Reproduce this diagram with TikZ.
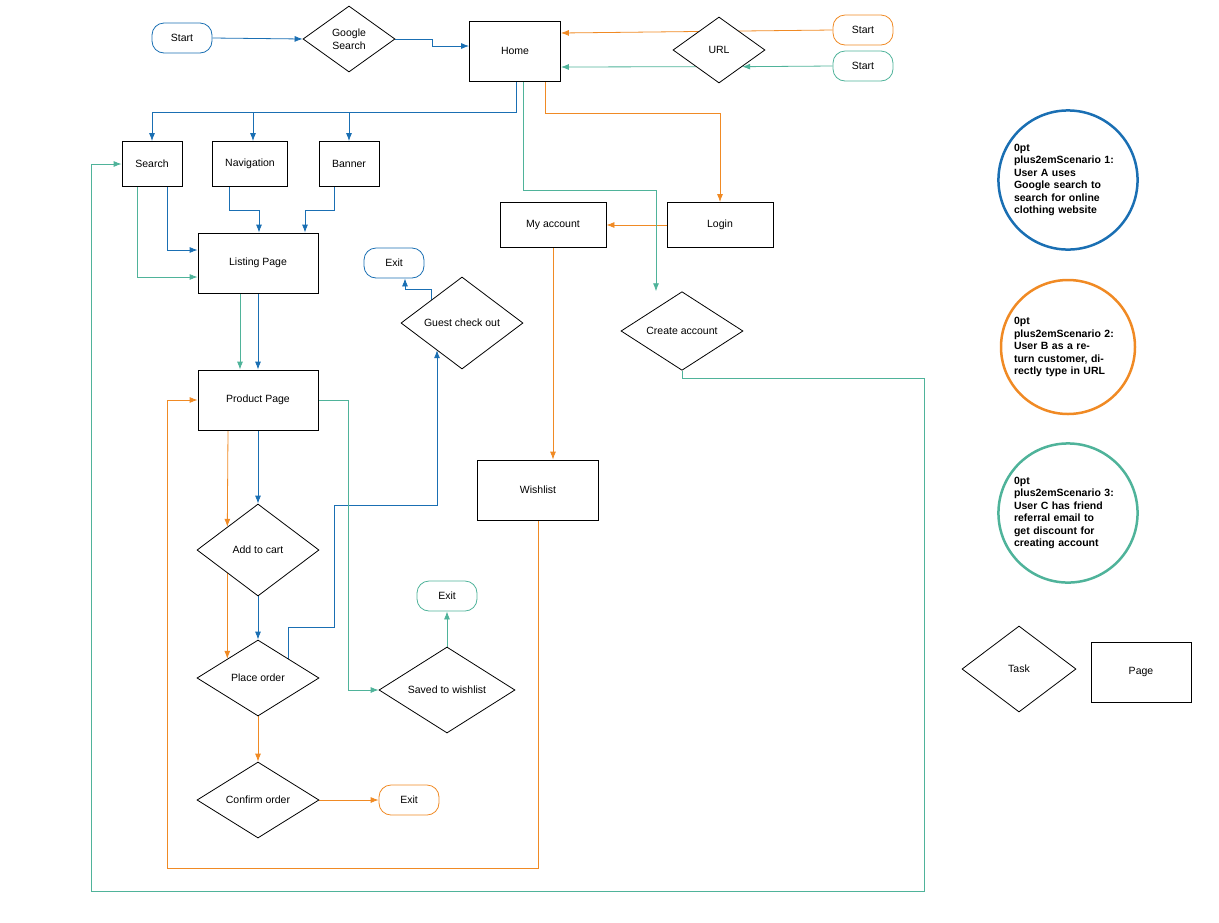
\documentclass[tikz,border=0pt]{standalone}
\usepackage{fontspec}
\setmainfont{Liberation Sans}
\usetikzlibrary{shapes.geometric,arrows.meta,backgrounds}
\definecolor{flowblue}{HTML}{1A6FB3}
\definecolor{floworange}{HTML}{F08A24}
\definecolor{flowteal}{HTML}{4FB39A}
\tikzset{
  txt/.style={font=\fontsize{10.5}{12.5}\selectfont},
  page/.style={draw, thick, fill=white, minimum width=#1, minimum height=60, txt},
  page/.default=120,
  task/.style n args={2}{draw, thick, fill=white, diamond, inner sep=0pt, minimum width=#1, minimum height=#2, txt},
  term/.style={draw=#1, thick, fill=white, rounded corners=12pt, minimum width=60, minimum height=30, txt},
  scen/.style={draw=#1, line width=2.5pt, circle, minimum size=134, text width=108, align=center,
    font=\fontsize{10.5}{12.5}\selectfont\bfseries\hyphenpenalty=10000},
  flow/.style={draw=#1, thick, -{Latex[length=8pt,width=6pt]}},
}
\begin{document}
\begin{tikzpicture}[x=1pt, y=-1pt]
  \useasboundingbox (0,0) rectangle (1219,922);

  % start points and entry
  \node[term=flowblue] (StartA) at (182,38) {Start};
  \node[task={92}{66}] (Google) at (349,39) {\shortstack{Google\\Search}};
  \node[page=91] (Home) at (515,51) {Home};
  \node[task={92}{66}] (URL) at (719,50) {URL};
  \node[term=floworange] (StartB) at (863,30) {Start};
  \node[term=flowteal] (StartC) at (863,66) {Start};

  % pages
  \node[page=60, minimum height=45] (Search) at (152,164) {Search};
  \node[page=75, minimum height=45] (Nav) at (250,164) {Navigation};
  \node[page=60, minimum height=45] (Banner) at (349,164) {Banner};
  \node[page] (Listing) at (258,263) {Listing Page};
  \node[page] (Product) at (258,400) {Product Page};
  \node[page=106, minimum height=45] (MyAcc) at (553,225) {My account};
  \node[page=106, minimum height=45] (Login) at (720,225) {Login};
  \node[page=121] (Wish) at (538,490) {Wishlist};

  % tasks
  \node[task={122}{92}] (AddCart) at (258,550) {Add to cart};
  \node[task={122}{76}] (Place) at (258,678) {Place order};
  \node[task={122}{76}] (Confirm) at (258,800) {Confirm order};
  \node[task={136}{86}] (Saved) at (447,690) {Saved to wishlist};
  \node[task={122}{92}] (Guest) at (462,323) {Guest check out};
  \node[task={122}{76}] (Create) at (682,331) {Create account};

  % exits
  \node[term=floworange] (ExitB) at (409,800) {Exit};
  \node[term=flowteal] (ExitC) at (447,596) {Exit};
  \node[term=flowblue] (ExitA) at (394,263) {Exit};

  % scenarios and legend
  \node[scen=flowblue] (ScenA) at (1068,180) {Scenario 1:\\User A uses Google search to search for online clothing website};
  \node[scen=floworange] (ScenB) at (1068,347) {Scenario 2:\\User B as a return customer, directly type in URL};
  \node[scen=flowteal] (ScenC) at (1068,513) {Scenario 3:\\User C has friend referral email to get discount for creating account};
  \node[task={114}{86}] (KeyTask) at (1019,669) {Task};
  \node[page=100] (KeyPage) at (1141,672) {Page};

  \coordinate (gturn) at (437,505);

  \begin{scope}[on background layer]
    % scenario 1
    \draw[flow=flowblue] (StartA.east) -- (Google.west);
    \draw[flow=flowblue] (Google.east) -- ++(37,0) |- ([yshift=5]Home.west);
    \draw[flow=flowblue] ([xshift=1]Home.south) -- ++(0,31) -| (Search.north);
    \draw[flow=flowblue] ([xshift=1]Home.south) -- ++(0,31) -| ([xshift=3]Nav.north);
    \draw[flow=flowblue] ([xshift=1]Home.south) -- ++(0,31) -| (Banner.north);
    \draw[flow=flowblue] ([xshift=15]Search.south) |- ([yshift=13]Listing.west);
    \draw[flow=flowblue] ([xshift=-21]Nav.south) -- ++(0,23) -| ([xshift=1]Listing.north);
    \draw[flow=flowblue] ([xshift=-15]Banner.south) -- ++(0,23) -| ([xshift=47]Listing.north);
    \draw[flow=flowblue] (Listing.south) -- (Product.north);
    \draw[flow=flowblue] (Product.south) -- (AddCart.north);
    \draw[flow=flowblue] (AddCart.south) -- (Place.north);
    \draw[flow=flowblue] (Place.north east) |- (334,627) |- (gturn) -- ([yshift=-4]gturn |- Guest.south west);
    \draw[flow=flowblue] (Guest.north west) -- ++(0,-10) -| ([xshift=11]ExitA.south);

    % scenario 2
    \draw[flow=floworange] (StartB.west) -- ([yshift=18]Home.east);
    \draw[flow=floworange] ([xshift=30]Home.south) -- ++(0,32) -| (Login.north);
    \draw[flow=floworange] (Login.west) -- (MyAcc.east);
    \draw[flow=floworange] (MyAcc.south) -- (MyAcc.south |- Wish.north);
    \draw[flow=floworange] (Wish.south) |- (167,868) |- (Product.west);
    \draw[flow=floworange] ([xshift=-30]Product.south) -- (AddCart.north west);
    \draw[flow=floworange] (AddCart.south west) -- (Place.north west);
    \draw[flow=floworange] (Place.south) -- (Confirm.north);
    \draw[flow=floworange] (Confirm.east) -- (ExitB.west);

    % scenario 3
    \draw[flow=flowteal] (StartC.west) -- (URL.south east);
    \draw[flow=flowteal] (URL.south west) -- ([yshift=-16]Home.east);
    \draw[flow=flowteal] ([xshift=8]Home.south) -- ++(0,109) -| ([xshift=-26]Create.north);
    \draw[flow=flowteal] (Create.south) |- (924,378) |- (91,891) |- (Search.west);
    \draw[flow=flowteal] ([xshift=-15]Search.south) |- ([yshift=-14]Listing.west);
    \draw[flow=flowteal] ([xshift=-18]Listing.south) -- ([xshift=-18]Product.north);
    \draw[flow=flowteal] (Product.east) -- ++(30,0) |- (Saved.west);
    \draw[flow=flowteal] (Saved.north) -- (ExitC.south);
  \end{scope}
\end{tikzpicture}
\end{document}
